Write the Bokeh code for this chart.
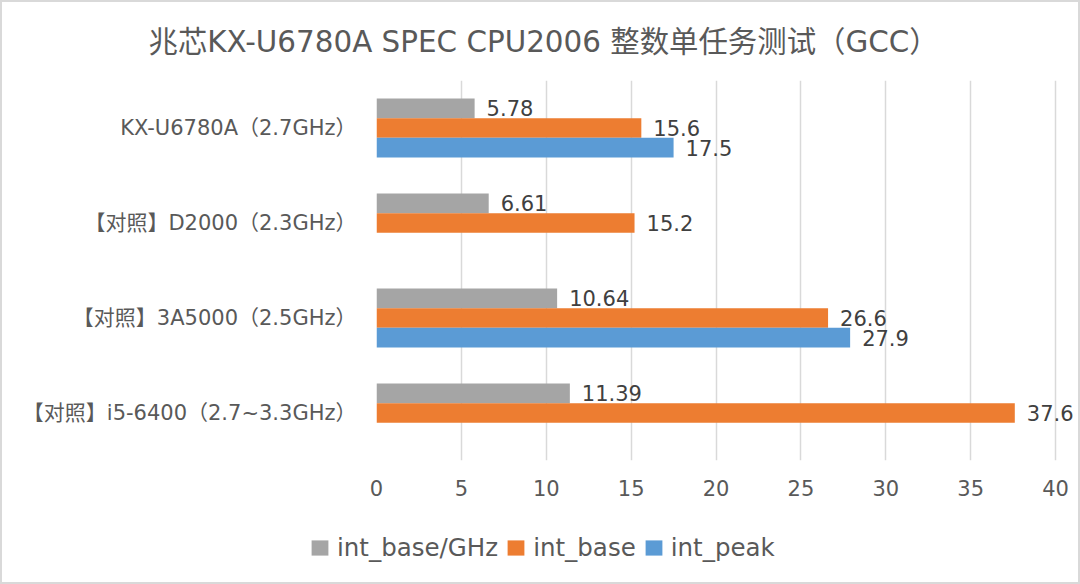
from bokeh.plotting import figure
from bokeh.models import (FactorRange, Range1d, FixedTicker, Legend, LegendItem,
                          LabelSet, ColumnDataSource)
from bokeh.transform import dodge
from bokeh.core.properties import value
from bokeh.embed import file_html
from bokeh.resources import INLINE

# ---------------- data ----------------
title_text = "兆芯KX-U6780A SPEC CPU2006 整数单任务测试（GCC）"
categories = [
    "KX-U6780A（2.7GHz）",
    "【对照】D2000（2.3GHz）",
    "【对照】3A5000（2.5GHz）",
    "【对照】i5-6400（2.7~3.3GHz）",
]
series_names = ["int_base/GHz", "int_base", "int_peak"]
int_base_per_ghz = [5.78, 6.61, 10.64, 11.39]
int_base = [15.6, 15.2, 26.6, 37.6]
int_peak = [17.5, None, 27.9, None]
x_ticks = [0, 5, 10, 15, 20, 25, 30, 35, 40]

# ---------------- style ----------------
colors = ["#A5A5A5", "#ED7D31", "#5B9BD5"]
offsets = [0.207, 0.0, -0.207]
bar_h = 0.207
FONT = "'DejaVu Sans', 'Noto Sans CJK SC'"
TXT = "#595959"
FRAME = "#D9D9D9"

W = 1080
H_MAIN, H_LEG = 510, 74
p = figure(width=W, height=H_MAIN,
           y_range=FactorRange(factors=list(reversed(categories))),
           x_range=Range1d(0, 41.47),
           output_backend="svg", toolbar_location=None,
           min_border_left=376, min_border_right=0,
           min_border_top=80, min_border_bottom=50)
p.outline_line_color = None
p.background_fill_color = None
p.border_fill_color = None
p.styles = {"box-shadow": f"inset 2px 2px 0 0 {FRAME}, inset -2px 0 0 0 {FRAME}",
            "background-color": "white"}

series_data = [int_base_per_ghz, int_base, int_peak]
for name, vals, col, off in zip(series_names, series_data, colors, offsets):
    cats = [c for c, v in zip(categories, vals) if v is not None]
    vv = [v for v in vals if v is not None]
    src = ColumnDataSource(dict(cat=cats, val=vv, lab=[str(v) for v in vv]))
    p.hbar(y=dodge("cat", off, range=p.y_range), left=0, right="val", height=bar_h,
           fill_color=col, line_color=None, source=src)
    ls = LabelSet(x="val", y=dodge("cat", off, range=p.y_range), text="lab", source=src,
                  x_offset=12, text_baseline="middle", text_align="left",
                  text_font_size=value("21px"), text_color=value("#404040"),
                  text_font=value(FONT))
    p.add_layout(ls)

# axes
p.xaxis.ticker = FixedTicker(ticks=x_ticks)
p.xaxis.axis_line_color = None
p.xaxis.major_tick_line_color = None
p.xaxis.minor_tick_line_color = None
p.xaxis.major_label_text_font_size = "21px"
p.xaxis.major_label_text_font = FONT
p.xaxis.major_label_text_color = TXT
p.xaxis.major_label_standoff = 13

p.yaxis.axis_line_color = None
p.yaxis.major_tick_line_color = None
p.yaxis.minor_tick_line_color = None
p.yaxis.major_label_text_font_size = "21px"
p.yaxis.major_label_text_font = FONT
p.yaxis.major_label_text_color = TXT
p.yaxis.major_label_standoff = 14

p.xgrid.grid_line_color = "#D9D9D9"
p.xgrid.grid_line_width = 1.5
p.ygrid.grid_line_color = None

# title
p.title.text = title_text
p.title.text_font_size = "29.4px"
p.title.text_font = FONT
p.title.text_font_style = "normal"
p.title.text_color = TXT
p.title.align = "left"
p.title.offset = -228
p.title.standoff = 43

# legend figure (its frame covers the whole canvas)
pl = figure(width=W, height=H_LEG, x_range=Range1d(-100, -99), y_range=Range1d(-100, -99),
            output_backend="svg", toolbar_location=None,
            min_border_left=0, min_border_right=0, min_border_top=0, min_border_bottom=0)
pl.axis.visible = False
pl.grid.visible = False
pl.outline_line_color = None
pl.background_fill_color = None
pl.border_fill_color = None
pl.styles = {"box-shadow": f"inset 2px -2px 0 0 {FRAME}, inset -2px 0 0 0 {FRAME}",
             "background-color": "white"}
leg_renderers = []
for vals, c in zip(series_data, colors):
    vv = [v for v in vals if v is not None]
    r = pl.hbar(y=list(range(len(vv))), right=vv, left=0, height=0.5,
                fill_color=c, line_color=None)
    r.visible = False
    leg_renderers.append(r)
legend = Legend(items=[LegendItem(label=n, renderers=[r]) for n, r in zip(series_names, leg_renderers)],
                orientation="horizontal", location=(309, 22),
                label_text_font_size="24.5px", label_text_font=FONT, label_text_color=TXT,
                glyph_width=21, glyph_height=19, label_standoff=7, spacing=7,
                padding=0, margin=0, border_line_color=None, background_fill_alpha=0,
                inactive_fill_alpha=0)
pl.add_layout(legend)

open("out.html", "w").write(file_html([p, pl], INLINE))
